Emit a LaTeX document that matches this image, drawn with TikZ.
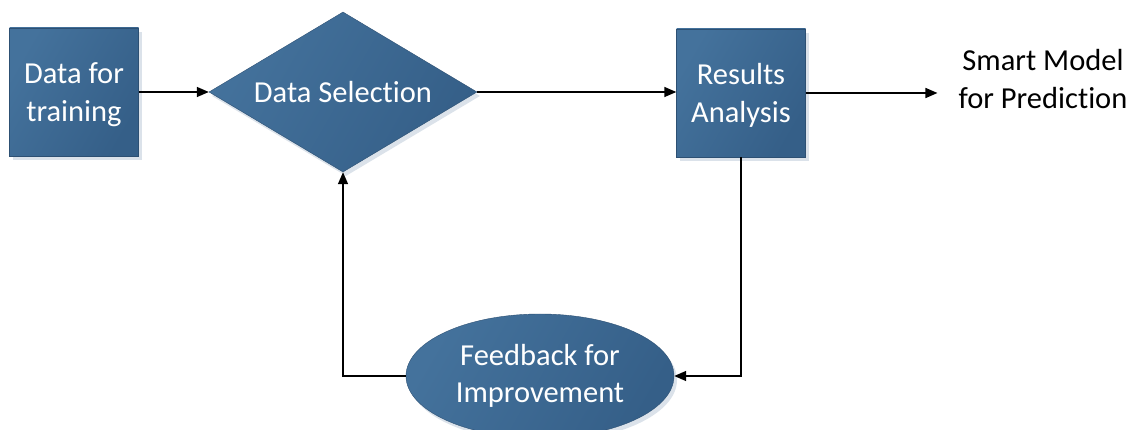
\documentclass[tikz,border=0pt]{standalone}
\usepackage{fontspec}
\setmainfont{Carlito}[Ligatures=NoCommon,RawFeature={-liga;-calt;-clig}]
\usetikzlibrary{shapes.geometric,arrows.meta,shadows}
\definecolor{lightb}{RGB}{68,114,156}
\definecolor{darkb}{RGB}{53,95,136}
\definecolor{edgeb}{RGB}{45,80,115}
\tikzset{
  blockfill/.style={shading=axis, top color=lightb, bottom color=darkb, shading angle=60,
    draw=edgeb, line width=0.4pt,
    drop shadow={opacity=0.18, shadow xshift=3pt, shadow yshift=-4pt, fill=darkb},
    text=white, font=\fontsize{30.5}{37.5}\selectfont, align=center, inner sep=0pt},
  sqbox/.style={blockfill, rectangle, minimum width=129pt, minimum height=128pt, text depth=0pt},
  diam/.style={blockfill, diamond, aspect=1.675, minimum width=268pt, minimum height=160pt},
  ellip/.style={blockfill, ellipse, minimum width=268pt, minimum height=124pt},
  plain/.style={text=black, font=\fontsize{30.5}{37.5}\selectfont, align=center, inner sep=0pt},
  arr/.style={line width=1.5pt, -{Triangle[length=12pt,width=10pt]}}
}
\begin{document}
\begin{tikzpicture}[x=1pt,y=-1pt]
\useasboundingbox (0,0) rectangle (1135,430);
\node[sqbox] (dt) at (74,92) {Data for\\training};
\node[diam] (ds) at (343,92) {Data Selection};
\node[sqbox] (ra) at (741,93) {Results\\Analysis};
\node[plain] (sm) at (1043,79) {Smart Model\\for Prediction};
\node[ellip] (fb) at (540,376) {Feedback for\\Improvement};
\draw[arr] (dt.east) -- (ds.west);
\draw[arr] (ds.east) -- (ds.east -| ra.west);
\draw[arr, shorten >=21pt] (ra.east) -- (ra.east -| sm.west);
\draw[arr] (ra.south) |- (fb.east);
\draw[arr] (fb.west) -| (ds.south);
\end{tikzpicture}
\end{document}
